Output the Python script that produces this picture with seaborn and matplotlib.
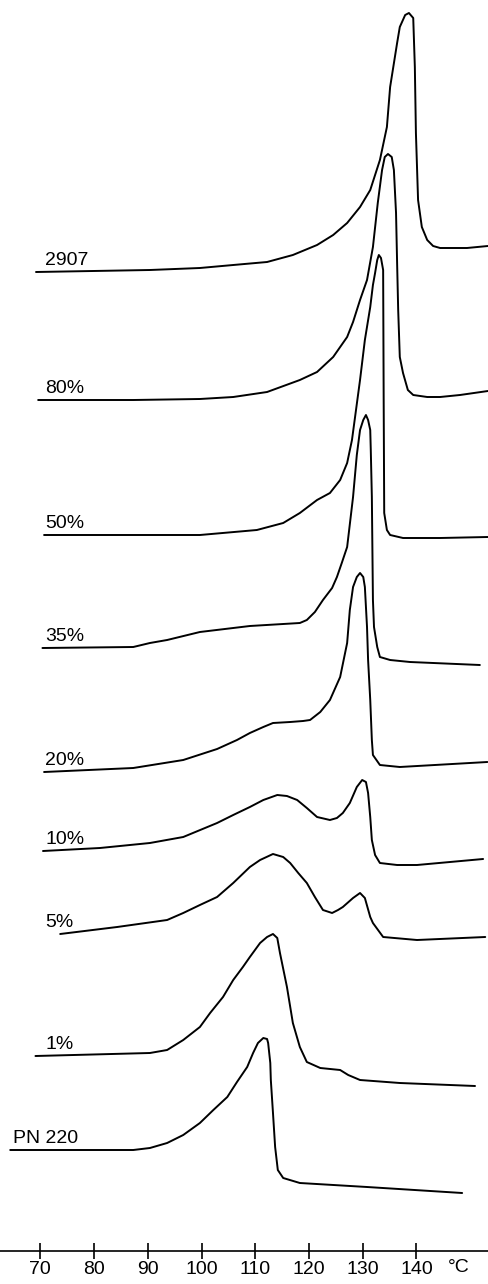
import matplotlib
matplotlib.use("Agg")
import matplotlib.pyplot as plt
import seaborn as sns
import pandas as pd

# DSC melting curves, stacked (temperature in degC, signal in arbitrary stacked units)
samples = ["2907", "80%", "50%", "35%", "20%", "10%", "5%", "1%", "PN 220"]

t_2907 = [69.2, 90.4, 99.7, 105.9, 112.2, 117.0, 121.5, 124.5, 127.1, 129.5, 131.4,
          133.2, 134.5, 135.1, 136.4, 136.9, 137.9, 138.6, 139.4, 139.7, 139.9, 140.3,
          141.0, 142.0, 143.1, 144.4, 149.4, 153.3]
h_2907 = [1012, 1014, 1016, 1019, 1022, 1029, 1039, 1049, 1061, 1077, 1094,
          1124, 1157, 1197, 1241, 1257, 1269, 1271, 1266, 1217, 1151, 1084,
          1057, 1044, 1038, 1036, 1036, 1038]

t_80 = [69.6, 87.3, 99.7, 105.9, 112.2, 118.3, 121.5, 124.5, 127.1, 128.2, 129.5,
        130.8, 131.9, 132.8, 133.6, 134.1, 134.7, 135.4, 135.8, 136.2, 136.4, 136.6,
        136.9, 137.5, 138.4, 139.4, 142.0, 144.4, 148.1, 153.3]
h_80 = [884, 884, 885, 887, 892, 904, 912, 927, 947, 962, 984,
        1004, 1037, 1081, 1114, 1127, 1130, 1127, 1114, 1071, 1021, 974,
        927, 911, 894, 889, 887, 887, 889, 893]

t_50 = [70.7, 87.3, 99.7, 110.3, 115.2, 118.3, 121.5, 123.9, 125.8, 127.1, 128.0,
        129.5, 130.4, 131.4, 131.9, 132.3, 132.7, 133.0, 133.4, 133.8, 133.9, 134.0,
        134.5, 135.1, 137.5, 144.4, 153.3]
h_50 = [749, 749, 749, 754, 761, 771, 784, 791, 804, 821, 844,
        904, 944, 977, 999, 1011, 1024, 1029, 1026, 1014, 884, 771,
        754, 749, 746, 746, 747]

t_35 = [70.4, 87.3, 90.4, 93.6, 99.7, 105.9, 109.0, 118.3, 119.6, 121.1, 122.6,
        124.3, 125.2, 126.1, 127.1, 128.2, 128.9, 129.5, 130.1, 130.6, 131.0, 131.4,
        131.5, 131.7, 131.9, 132.1, 132.7, 133.2, 135.1, 138.8, 151.8]
h_35 = [636, 637, 641, 644, 652, 656, 658, 661, 664, 672, 684,
        696, 707, 721, 737, 787, 829, 854, 864, 869, 864, 854,
        834, 787, 684, 657, 637, 627, 624, 622, 619]

t_20 = [70.7, 87.3, 96.6, 102.9, 106.6, 109.0, 111.5, 113.3, 116.5, 118.9, 120.2,
        122.1, 123.9, 125.8, 127.1, 127.6, 128.2, 128.9, 129.5, 130.1, 130.4, 130.8,
        131.0, 131.4, 131.7, 131.9, 133.2, 136.9, 153.2]
h_20 = [512, 516, 524, 535, 544, 551, 557, 561, 562, 563, 564,
        572, 584, 607, 641, 674, 697, 707, 711, 707, 697, 657,
        624, 584, 544, 529, 519, 517, 522]

t_10 = [70.5, 81.1, 90.4, 96.6, 102.9, 105.9, 109.0, 111.5, 114.1, 115.9, 117.8,
        119.6, 121.5, 123.9, 125.2, 126.3, 127.6, 128.9, 129.9, 130.6, 131.0, 131.4,
        131.7, 132.3, 133.2, 136.4, 140.1, 152.4]
h_10 = [433, 436, 441, 447, 461, 469, 477, 484, 489, 488, 484,
        476, 467, 464, 466, 471, 481, 497, 504, 502, 491, 467,
        444, 429, 421, 419, 419, 425]

t_5 = [73.7, 84.3, 93.6, 96.6, 99.7, 102.9, 105.9, 109.0, 110.9, 113.3, 115.2,
       116.5, 118.0, 119.6, 121.1, 122.6, 124.3, 125.4, 126.3, 128.2, 129.5, 130.4,
       131.4, 131.9, 133.8, 140.1, 152.8]
h_5 = [350, 357, 364, 371, 379, 387, 401, 417, 424, 430, 427,
       421, 411, 401, 387, 374, 371, 374, 377, 386, 391, 386,
       367, 361, 347, 344, 347]

t_1 = [69.1, 90.4, 93.6, 96.6, 99.7, 101.6, 104.0, 105.9, 107.7, 109.0, 110.9,
       112.2, 113.3, 114.1, 114.6, 115.9, 117.0, 118.3, 119.6, 122.1, 125.8, 127.3,
       129.5, 136.9, 150.9]
h_1 = [228, 231, 234, 244, 257, 271, 287, 304, 317, 327, 341,
       347, 350, 346, 331, 297, 261, 237, 222, 216, 214, 209,
       204, 201, 198]

t_pn = [64.4, 87.3, 90.4, 93.6, 96.6, 99.7, 102.2, 104.8, 106.6, 108.5, 109.6,
        110.5, 111.5, 112.2, 112.4, 112.8, 112.9, 113.3, 113.7, 114.2, 115.2, 118.3,
        130.8, 148.5]
h_pn = [134, 134, 136, 141, 149, 161, 174, 187, 202, 217, 231,
        241, 246, 245, 241, 221, 204, 171, 137, 114, 106, 101,
        97, 91]

temps = [t_2907, t_80, t_50, t_35, t_20, t_10, t_5, t_1, t_pn]
signals = [h_2907, h_80, h_50, h_35, h_20, h_10, h_5, h_1, h_pn]

x_ticks = [70, 80, 90, 100, 110, 120, 130, 140]
axis_level = 33

frames = []
for name, t, h in zip(samples, temps, signals):
    frames.append(pd.DataFrame({"T": t, "signal": h, "sample": name}))
df = pd.concat(frames, ignore_index=True)

sns.set_theme(style="white")
plt.rcParams['font.family'] = ['Liberation Sans', 'DejaVu Sans']

fig = plt.figure(figsize=(4.89, 12.84), dpi=100)
ax = fig.add_axes([0, 0, 1, 1])

sns.lineplot(data=df, x="T", y="signal", units="sample", estimator=None,
             sort=False, color="black", linewidth=1.4, ax=ax)

# sample labels just above the left end of each trace
for name, t, h in zip(samples, temps, signals):
    lx = 65.0 if name.startswith("PN") else 70.9
    ax.text(lx, h[0] + 7, name, fontsize=14, va="baseline", ha="left", color="black")

ax.set_xlim(62.5, 153.5)
ax.set_ylim(0, 1284)
ax.set_xlabel("")
ax.set_ylabel("")
ax.set_yticks([])
ax.set_xticks(x_ticks)
ax.set_xticklabels([str(v) for v in x_ticks])
ax.tick_params(axis="x", direction="inout", length=11, width=1.2, pad=2,
               colors="black", bottom=True, labelsize=14)
for side in ["top", "left", "right"]:
    ax.spines[side].set_visible(False)
ax.spines["bottom"].set_position(("data", axis_level))
ax.spines["bottom"].set_color("black")
ax.spines["bottom"].set_linewidth(1.2)
ax.text(145.8, 17, "°C", fontsize=14, va="center", ha="left", color="black")

fig.savefig("out.png", dpi=100)
